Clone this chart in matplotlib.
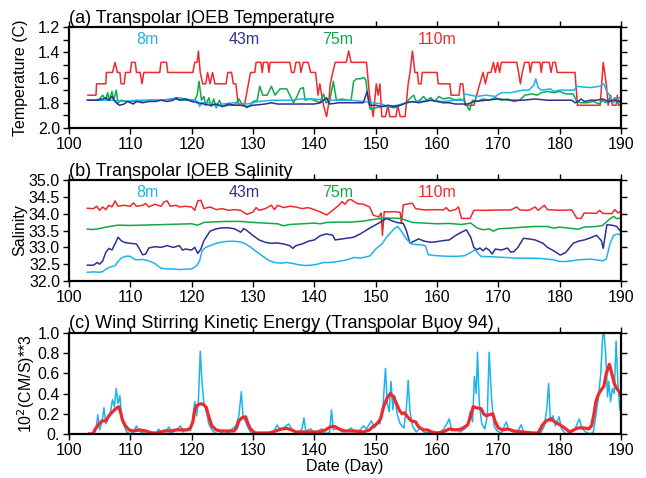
import matplotlib
matplotlib.use("Agg")
import matplotlib.pyplot as plt
from matplotlib.ticker import MultipleLocator, FixedLocator, FixedFormatter

plt.rcParams["font.family"] = ["Liberation Sans", "DejaVu Sans"]
plt.rcParams["font.size"] = 11

C_8M = "#1cb4ec"
C_43M = "#2e3192"
C_75M = "#11a84b"
C_110M = "#ee2a2e"

DEPTH_LABELS = ["8m", "43m", "75m", "110m"]
DEPTH_LABEL_DAYS = [112.8, 128.5, 143.8, 160.0]

# ---- (a) temperature (day, value) ----
temp_110_day = [103.1, 104.4, 104.5, 106.0, 106.1, 107.1, 107.5, 107.9, 108.3, 108.5, 109.0, 109.2,
                110.0, 110.2, 110.8, 111.0, 111.6, 111.9, 112.2, 114.8, 115.0, 115.9, 116.1, 120.2,
                120.5, 120.9, 121.1, 121.4, 121.8, 122.3, 122.6, 123.0, 123.4, 123.8, 125.6, 125.9,
                126.5, 126.8, 127.2, 127.6, 128.6, 129.6, 130.3, 130.5, 131.3, 131.5, 131.7, 132.4,
                132.6, 132.8, 136.0, 136.3, 136.7, 137.0, 137.6, 137.8, 138.2, 139.0, 139.4, 140.2,
                140.6, 140.9, 141.2, 141.5, 142.0, 142.3, 142.6, 143.0, 143.4, 145.2, 145.6, 146.0,
                148.5, 149.0, 149.6, 150.1, 150.4, 150.7, 151.0, 151.6, 152.0, 152.3, 153.3, 153.6,
                154.0, 154.8, 155.3, 155.6, 156.0, 156.4, 156.8, 157.0, 157.4, 157.6, 160.0, 160.2,
                162.1, 162.3, 163.6, 163.8, 164.2, 164.6, 166.0, 167.5, 167.9, 168.3, 168.8, 169.2,
                169.5, 169.9, 170.2, 170.5, 173.0, 173.3, 173.6, 173.9, 174.3, 175.0, 175.2, 175.5,
                176.8, 177.0, 177.2, 178.3, 178.6, 178.9, 179.3, 179.6, 182.5, 182.9, 186.6, 187.1,
                187.6, 187.9, 188.3, 188.6, 189.2, 189.4, 189.6, 189.9, 190.0]
temp_110_val = [1.74, 1.74, 1.65, 1.65, 1.56, 1.56, 1.48, 1.56, 1.56, 1.65, 1.65, 1.56,
                1.56, 1.48, 1.48, 1.56, 1.56, 1.65, 1.56, 1.56, 1.48, 1.48, 1.56, 1.56,
                1.48, 1.48, 1.39, 1.56, 1.65, 1.65, 1.56, 1.65, 1.56, 1.65, 1.65, 1.56,
                1.56, 1.65, 1.65, 1.82, 1.82, 1.56, 1.56, 1.48, 1.48, 1.56, 1.48, 1.48,
                1.56, 1.48, 1.48, 1.56, 1.56, 1.48, 1.48, 1.56, 1.48, 1.48, 1.56, 1.56,
                1.74, 1.65, 1.74, 1.82, 1.91, 1.82, 1.65, 1.56, 1.48, 1.48, 1.39, 1.48,
                1.48, 1.74, 1.91, 1.65, 1.74, 1.65, 1.91, 1.91, 1.82, 1.91, 1.91, 1.82,
                1.91, 1.91, 1.65, 1.56, 1.39, 1.56, 1.56, 1.65, 1.65, 1.56, 1.56, 1.65,
                1.65, 1.74, 1.74, 1.65, 1.65, 1.82, 1.82, 1.56, 1.65, 1.56, 1.56, 1.48,
                1.56, 1.48, 1.56, 1.48, 1.48, 1.56, 1.65, 1.56, 1.48, 1.48, 1.56, 1.48,
                1.48, 1.56, 1.48, 1.48, 1.56, 1.48, 1.48, 1.56, 1.56, 1.82, 1.82, 1.48,
                1.65, 1.82, 1.74, 1.82, 1.82, 1.74, 1.82, 1.82, 1.70]

temp_8_day = [103, 105, 107, 109, 111, 113, 115, 116.5, 118, 119, 120.5, 121, 121.3, 121.6, 123,
              124, 125, 127, 129, 131, 133, 136, 138, 140, 142, 144, 146, 148, 149.5, 151, 152,
              153.5, 155, 157, 159, 161, 163, 164.3, 164.5, 165.5, 166.5, 168, 169.5, 170.5, 172,
              173, 174, 175, 175.8, 176.1, 176.5, 177, 178.5, 179, 180, 182.4, 182.7, 185, 186.5,
              187.2, 187.6, 188.1, 188.7, 189.3, 189.7, 190]
temp_8_val = [1.78, 1.78, 1.78, 1.79, 1.78, 1.78, 1.78, 1.77, 1.76, 1.77, 1.78, 1.79, 1.83, 1.80, 1.80,
              1.83, 1.81, 1.80, 1.81, 1.79, 1.78, 1.78, 1.77, 1.77, 1.78, 1.78, 1.78, 1.79, 1.80, 1.81, 1.83,
              1.82, 1.80, 1.79, 1.78, 1.79, 1.78, 1.78, 1.73, 1.74, 1.75, 1.74, 1.75, 1.72, 1.72,
              1.71, 1.70, 1.70, 1.66, 1.61, 1.68, 1.70, 1.69, 1.71, 1.70, 1.70, 1.67, 1.68, 1.67,
              1.65, 1.70, 1.74, 1.80, 1.78, 1.76, 1.77]

temp_43_day = [103, 104.5, 105.5, 106, 106.5, 107, 107.5, 108.2, 109, 109.5, 110.5, 111, 112, 113, 114,
               115, 116, 117, 117.5, 118, 119, 120, 121, 122, 123, 124, 125, 126, 127, 128, 129, 130,
               132, 133, 134, 136, 138, 140, 141, 142, 142.5, 144, 146, 148, 148.6, 149, 150, 151,
               152, 153, 154, 155, 156, 157, 158, 159, 160, 161, 162, 163, 164, 165, 166, 168, 170,
               172, 174, 176, 178, 180, 182, 182.5, 183, 183.5, 184, 185, 186, 187, 188, 189, 190]
temp_43_val = [1.78, 1.78, 1.77, 1.76, 1.78, 1.75, 1.79, 1.82, 1.81, 1.79, 1.81, 1.79, 1.80, 1.79, 1.79,
               1.78, 1.79, 1.78, 1.76, 1.78, 1.77, 1.79, 1.80, 1.81, 1.82, 1.81, 1.83, 1.81, 1.82, 1.82,
               1.83, 1.82, 1.81, 1.80, 1.81, 1.81, 1.81, 1.81, 1.80, 1.76, 1.81, 1.80, 1.80, 1.80, 1.71,
               1.82, 1.82, 1.83, 1.82, 1.83, 1.82, 1.80, 1.79, 1.80, 1.79, 1.78, 1.79, 1.80, 1.80, 1.81,
               1.81, 1.81, 1.79, 1.78, 1.77, 1.78, 1.78, 1.77, 1.78, 1.78, 1.78, 1.80, 1.79, 1.77, 1.79,
               1.78, 1.78, 1.77, 1.79, 1.78, 1.79]

temp_75_day = [103, 104, 105, 105.5, 106, 106.3, 106.6, 107, 107.3, 107.7, 108, 108.5, 109.5, 111, 113,
               115, 117, 119, 120.5, 120.9, 121.2, 121.6, 122, 122.3, 122.8, 123.2, 123.6, 124, 124.5,
               125, 126, 127, 127.7, 128.2, 129, 129.6, 130.0, 130.7, 131.1, 131.6, 132.3, 133.0,
               133.6, 134.4, 135.5, 136.0, 136.6, 137.1, 137.7, 138.2, 138.5, 139.3, 140.5, 140.9,
               141.5, 141.9, 142.5, 143.1, 143.6, 144.5, 145.5, 146.0, 146.4, 146.9, 147.5, 148.1,
               148.4, 148.8, 149.1, 151, 152, 153, 154, 155, 155.5, 156.2, 156.6, 157.2, 157.8, 158.3,
               159, 159.6, 160.3, 161, 162, 163, 163.8, 164.5, 165.3, 165.8, 166.5, 167.5, 168.5, 169.5,
               170.5, 171.5, 172.5, 173.5, 174.3, 175.5, 176.3, 177, 178, 179, 180, 181, 182.2, 182.8,
               183.5, 184.5, 185.5, 186.5, 187, 187.5, 188, 188.5, 189, 189.5, 190]
temp_75_val = [1.78, 1.78, 1.77, 1.74, 1.78, 1.72, 1.78, 1.71, 1.78, 1.70, 1.80, 1.78, 1.79, 1.79, 1.78,
               1.78, 1.77, 1.78, 1.78, 1.74, 1.63, 1.78, 1.75, 1.82, 1.76, 1.83, 1.77, 1.84, 1.78,
               1.83, 1.82, 1.82, 1.77, 1.81, 1.84, 1.82, 1.79, 1.78, 1.67, 1.74, 1.74, 1.67,
               1.74, 1.69, 1.69, 1.74, 1.80, 1.76, 1.69, 1.68, 1.78, 1.77, 1.79, 1.80,
               1.73, 1.80, 1.79, 1.63, 1.78, 1.77, 1.78, 1.78, 1.63, 1.61, 1.61, 1.60,
               1.62, 1.78, 1.85, 1.83, 1.83, 1.84, 1.82, 1.80, 1.77, 1.74, 1.79, 1.78, 1.75, 1.78,
               1.76, 1.79, 1.75, 1.77, 1.76, 1.78, 1.77, 1.79, 1.86, 1.78, 1.79, 1.77, 1.78, 1.76,
               1.78, 1.77, 1.79, 1.78, 1.74, 1.73, 1.74, 1.72, 1.71, 1.72, 1.71, 1.73, 1.73, 1.79,
               1.80, 1.80, 1.79, 1.81, 1.78, 1.80, 1.77, 1.79, 1.76, 1.80, 1.79]

# ---- (b) salinity ----
sal_8_day = [103, 104, 105, 105.5, 106, 106.5, 107, 107.5, 108, 108.5, 109, 109.5, 110, 110.5, 111, 112,
             113, 114, 115, 116, 117, 118, 119, 120, 120.8, 121.3, 121.7, 122.3, 123, 124, 125, 126,
             127, 128, 128.8, 129.5, 130.5, 131.5, 132.5, 133.5, 134.5, 135.5, 136.5, 137.5, 138.5,
             139.5, 140.5, 141.5, 142.5, 143.5, 144.5, 145.5, 146.5, 147.5, 148.5, 149.1, 150, 151,
             152, 153, 153.6, 154.3, 155, 155.8, 156.7, 157.5, 158.1, 158.6, 159.5, 161, 163, 164.5,
             165.5, 166.2, 166.7, 167.2, 169, 171, 173, 175, 177, 179, 180, 181, 182, 183, 184, 185,
             186, 187, 187.6, 188.2, 188.8, 189.5, 190]
sal_8_val = [32.26, 32.27, 32.26, 32.28, 32.35, 32.40, 32.43, 32.45, 32.58, 32.68, 32.72, 32.74, 32.73,
             32.66, 32.63, 32.64, 32.60, 32.52, 32.38, 32.36, 32.36, 32.34, 32.35, 32.36, 32.45, 32.60,
             32.90, 33.00, 33.05, 33.12, 33.16, 33.18, 33.18, 33.16, 33.10, 33.02, 32.88, 32.75, 32.62,
             32.55, 32.53, 32.55, 32.52, 32.48, 32.46, 32.47, 32.50, 32.55, 32.55, 32.57, 32.60, 32.64,
             32.70, 32.68, 32.72, 32.75, 32.95, 33.10, 33.35, 33.55, 33.62, 33.45, 33.25, 33.10, 33.08,
             33.07, 33.05, 32.78, 32.76, 32.74, 32.73, 32.75, 32.85, 32.93, 32.82, 32.73, 32.72, 32.70,
             32.68, 32.68, 32.67, 32.63, 32.58, 32.58, 32.60, 32.63, 32.64, 32.65, 32.63, 32.60, 32.65,
             33.10, 33.36, 33.40, 33.35]

sal_43_day = [103, 104, 104.6, 105, 105.5, 106, 106.5, 107, 107.5, 108, 108.5, 109, 110, 111, 111.5, 112,
              112.5, 113, 114, 115, 116, 117, 118, 118.5, 119, 120, 120.5, 121, 121.5, 122, 123, 124,
              125, 126, 127, 127.5, 128, 128.5, 129, 130, 131, 132, 133, 134, 135, 136, 136.5, 137,
              138, 139, 140, 141, 142, 143, 143.4, 144.5, 146.4, 147.5, 149.1, 150.5, 151.8, 152.5,
              153.4, 154.5, 155, 155.6, 156.2, 157, 158, 159, 160, 161, 162, 163, 164, 164.8, 165.5,
              166.0, 166.5, 167, 167.5, 168, 168.5, 169, 169.5, 170.5, 171.5, 172, 172.5, 173.2, 174.1,
              175, 176, 177.3, 178, 179, 180.1, 181, 182.2, 183, 184, 185, 186, 186.8, 187.1, 187.7,
              188.5, 189.3, 190]
sal_43_val = [32.47, 32.47, 32.55, 32.50, 32.60, 32.85, 32.97, 32.92, 33.10, 33.30, 33.20, 33.15, 33.12,
              33.10, 32.95, 32.78, 32.80, 32.98, 33.02, 33.00, 33.05, 33.00, 33.05, 32.92, 32.95, 32.92,
              33.00, 32.82, 32.95, 33.20, 33.48, 33.55, 33.58, 33.58, 33.55, 33.50, 33.45, 33.56, 33.50,
              33.35, 33.22, 33.15, 33.12, 33.13, 33.10, 33.05, 32.97, 33.05, 33.10, 33.18, 33.22, 33.35,
              33.40, 33.36, 33.22, 33.25, 33.30, 33.40, 33.58, 33.72, 33.86, 33.80, 33.74, 33.71, 33.50,
              33.12, 33.18, 33.25, 33.18, 33.15, 33.17, 33.20, 33.22, 33.35, 33.45, 33.52, 33.30, 33.00,
              32.93, 32.98, 32.90, 32.98, 32.92, 32.80, 32.95, 32.92, 32.98, 32.86, 32.87, 33.00, 33.27,
              33.25, 33.22, 33.12, 33.00, 32.90, 32.77, 32.85, 33.12, 33.18, 33.22, 33.28, 33.36, 33.20,
              32.97, 33.67, 33.66, 33.62, 33.46]

sal_75_day = [103, 104, 105, 106, 107, 108, 110, 112, 114, 116, 118, 120, 121, 122, 124, 126, 128, 130,
              132, 134, 135, 136, 138, 140, 141, 142, 144, 146, 148, 150, 152, 154, 155, 156, 158, 160,
              162, 164, 165.5, 166.5, 167.5, 168.5, 169.2, 170, 172, 174, 176, 178, 179, 180, 182, 183,
              184, 186, 187, 188.2, 188.8, 189.3, 190]
sal_75_val = [33.54, 33.53, 33.56, 33.60, 33.63, 33.66, 33.65, 33.66, 33.67, 33.68, 33.69, 33.70, 33.66,
              33.74, 33.76, 33.77, 33.77, 33.74, 33.72, 33.70, 33.64, 33.68, 33.70, 33.72, 33.70, 33.74,
              33.75, 33.75, 33.78, 33.84, 33.87, 33.86, 33.80, 33.74, 33.72, 33.70, 33.71, 33.68, 33.72,
              33.58, 33.52, 33.55, 33.48, 33.55, 33.57, 33.60, 33.62, 33.62, 33.57, 33.60, 33.56, 33.54,
              33.60, 33.62, 33.65, 33.85, 33.92, 33.85, 33.88]

sal_110_day = [103, 104, 104.5, 105, 105.5, 106, 106.5, 107, 107.5, 108, 109, 110, 110.5, 111, 112, 112.5,
               113, 114, 115, 115.5, 116, 116.5, 117.5, 118, 119, 120, 120.5, 121, 121.5, 122, 123, 124,
               125, 126, 127, 128, 129, 130, 130.5, 131, 132, 133, 133.5, 134, 135, 136, 137, 138, 139,
               140, 141, 142, 143, 144, 144.5, 145, 145.5, 146, 147, 148, 149, 149.6, 150.5, 150.9,
               151.1, 151.4, 152, 153, 154, 154.2, 154.5, 155.5, 156, 156.5, 158, 160, 161, 161.5, 162,
               163, 163.5, 164, 165.4, 166, 168, 170, 172, 173, 173.5, 175, 176, 176.5, 177.5, 178, 180,
               182, 182.8, 183.5, 184, 186, 186.5, 187, 188.5, 189, 189.5, 190]
sal_110_val = [34.16, 34.15, 34.22, 34.10, 34.20, 34.12, 34.25, 34.20, 34.38, 34.22, 34.25, 34.22, 34.32,
               34.22, 34.25, 34.30, 34.20, 34.28, 34.22, 34.35, 34.38, 34.22, 34.25, 34.20, 34.22, 34.20,
               34.10, 34.38, 34.40, 34.15, 34.20, 34.12, 34.15, 34.10, 34.12, 34.10, 33.98, 34.05, 34.18,
               34.10, 34.15, 34.25, 34.12, 34.25, 34.18, 34.22, 34.20, 34.15, 34.18, 34.12, 34.05, 33.96,
               34.10, 34.25, 34.36, 34.28, 34.40, 34.42, 34.30, 34.28, 34.20, 33.96, 33.90, 34.02, 33.36,
               34.06, 34.05, 34.06, 34.04, 33.71, 34.26, 34.30, 34.31, 34.15, 34.11, 34.12, 34.11, 34.18,
               34.08, 34.12, 34.20, 33.86, 33.86, 34.10, 34.10, 34.11, 34.11, 34.20, 34.11, 34.10, 34.20,
               34.10, 34.25, 34.12, 34.10, 34.11, 33.86, 33.86, 34.02, 34.01, 34.10, 34.01, 34.00, 34.12,
               34.02, 34.08]

# ---- (c) wind stirring kinetic energy ----
wind_day = [103.0, 104.0, 104.4, 104.7, 105.0, 105.4, 105.7, 106.0, 106.4, 106.8, 107.1, 107.4, 107.7,
            108.0, 108.3, 108.6, 109.0, 109.4, 110.0, 110.6, 111.0, 111.4, 112.0, 112.8, 113.5, 114.2,
            114.6, 115.0, 115.8, 116.3, 116.7, 117.5, 118.2, 118.6, 119.2, 119.8, 120.2, 120.5, 120.8,
            121.1, 121.4, 121.7, 122.0, 122.4, 122.8, 123.2, 123.8, 124.5, 125.2, 126.0, 126.6, 127.2,
            127.7, 128.1, 128.4, 128.8, 129.2, 129.8, 130.5, 131.5, 132.5, 133.5, 133.9, 134.5, 135.2,
            135.8, 136.5, 137.3, 138.0, 138.3, 138.6, 139.4, 140.0, 140.6, 141.2, 141.8, 142.5, 142.8,
            143.1, 143.8, 144.5, 145.3, 146.0, 146.5, 147.5, 148.0, 148.5, 149.3, 149.8, 150.4, 150.7,
            151.2, 151.6, 151.9, 152.2, 152.5, 152.8, 153.1, 153.5, 154.0, 154.6, 155.0, 155.3, 155.6,
            156.0, 156.6, 157.3, 158.0, 159.0, 160.0, 161.0, 161.6, 162.0, 162.4, 163.0, 163.8, 164.5,
            165.0, 165.4, 165.8, 166.1, 166.4, 166.6, 166.9, 167.3, 167.8, 168.2, 168.5, 168.9, 169.3,
            169.8, 170.5, 171.3, 171.7, 172.5, 173.2, 173.7, 174.2, 175.0, 176.0, 177.0, 177.5, 177.9,
            178.2, 178.5, 178.9, 179.3, 179.9, 180.3, 181.0, 181.8, 182.5, 183.2, 183.6, 184.2, 185.0,
            185.5, 185.9, 186.3, 186.7, 187.0, 187.2, 187.5, 187.8, 188.0, 188.3, 188.6, 188.9, 189.2,
            189.5, 189.8, 190.0]
wind_raw = [0.00, 0.01, 0.05, 0.19, 0.04, 0.12, 0.26, 0.10, 0.16, 0.23, 0.34, 0.27, 0.45,
            0.30, 0.38, 0.15, 0.08, 0.02, 0.00, 0.03, 0.08, 0.03, 0.01, 0.00, 0.02, 0.00,
            0.05, 0.01, 0.03, 0.07, 0.01, 0.04, 0.08, 0.02, 0.05, 0.03, 0.15, 0.32, 0.18,
            0.33, 0.82, 0.50, 0.30, 0.22, 0.10, 0.05, 0.01, 0.00, 0.03, 0.01, 0.05, 0.08,
            0.18, 0.42, 0.16, 0.12, 0.06, 0.00, 0.00, 0.01, 0.01, 0.03, 0.09, 0.04, 0.07,
            0.10, 0.03, 0.01, 0.05, 0.16, 0.03, 0.05, 0.01, 0.03, 0.05, 0.00, 0.02, 0.24,
            0.04, 0.06, 0.02, 0.03, 0.06, 0.02, 0.04, 0.08, 0.05, 0.13, 0.06, 0.12, 0.10,
            0.28, 0.65, 0.30, 0.22, 0.52, 0.24, 0.38, 0.20, 0.10, 0.06, 0.25, 0.53, 0.22,
            0.08, 0.02, 0.06, 0.01, 0.02, 0.00, 0.04, 0.10, 0.15, 0.03, 0.05, 0.02, 0.05,
            0.08, 0.22, 0.12, 0.57, 0.40, 0.81, 0.30, 0.10, 0.05, 0.18, 0.81, 0.35, 0.08,
            0.03, 0.01, 0.12, 0.04, 0.02, 0.03, 0.09, 0.01, 0.02, 0.01, 0.02, 0.08, 0.25,
            0.50, 0.12, 0.18, 0.08, 0.17, 0.05, 0.00, 0.01, 0.05, 0.15, 0.06, 0.02, 0.00,
            0.02, 0.18, 0.35, 0.60, 0.96, 1.02, 0.80, 0.37, 0.52, 0.32, 0.45, 0.40, 0.92,
            0.50, 0.24, 0.37]

smooth_day = [103.3, 103.9, 104.3, 104.9, 105.4, 106.0, 106.5, 107.1, 107.6, 108.1, 108.4, 108.7, 109.2,
              109.8, 110.5, 111.5, 112.5, 113.5, 114.4, 115.5, 116.5, 117.5, 118.5, 119.3, 119.8, 120.2,
              120.5, 120.8, 121.5, 122.0, 122.4, 122.8, 123.3, 124.0, 124.7, 125.8, 126.9, 127.3, 127.7,
              128.2, 128.8, 129.2, 129.6, 130.3, 131.5, 132.7, 133.7, 134.7, 135.5, 136.3, 137.0, 138.5,
              140.0, 140.9, 141.8, 142.6, 143.3, 144.0, 145.0, 146.5, 148.0, 149.0, 149.5, 150.2, 150.8,
              151.3, 151.9, 152.4, 152.9, 153.4, 153.9, 154.3, 154.7, 155.2, 155.8, 156.5, 157.0, 157.8,
              158.5, 159.1, 160.0, 161.0, 162.0, 163.0, 164.0, 165.0, 165.5, 165.9, 166.4, 167.2, 167.6,
              168.0, 168.5, 169.1, 169.5, 170.0, 170.7, 171.5, 172.5, 174.0, 175.5, 176.5, 177.2, 177.8,
              178.6, 179.2, 179.8, 180.3, 180.8, 181.6, 182.3, 183.0, 184.0, 184.7, 185.2, 185.6, 185.9,
              186.3, 186.7, 187.2, 187.6, 188.1, 188.5, 188.9, 189.3, 189.7, 190.0]
smooth_val = [0.00, 0.00, 0.05, 0.10, 0.13, 0.13, 0.18, 0.22, 0.25, 0.27, 0.22, 0.14, 0.08,
              0.04, 0.03, 0.04, 0.03, 0.01, 0.01, 0.03, 0.03, 0.04, 0.04, 0.04, 0.06, 0.12,
              0.24, 0.28, 0.30, 0.29, 0.26, 0.17, 0.08, 0.04, 0.03, 0.03, 0.03, 0.06, 0.13,
              0.16, 0.17, 0.10, 0.05, 0.01, 0.01, 0.01, 0.03, 0.05, 0.055, 0.04, 0.02, 0.02,
              0.02, 0.02, 0.04, 0.07, 0.075, 0.05, 0.03, 0.03, 0.02, 0.04, 0.07, 0.10, 0.15,
              0.27, 0.36, 0.40, 0.37, 0.30, 0.23, 0.20, 0.21, 0.17, 0.13, 0.12, 0.07, 0.04,
              0.04, 0.02, 0.01, 0.02, 0.05, 0.04, 0.05, 0.09, 0.18, 0.27, 0.26, 0.25, 0.20,
              0.18, 0.19, 0.20, 0.12, 0.06, 0.04, 0.05, 0.03, 0.02, 0.01, 0.01, 0.09, 0.13,
              0.15, 0.12, 0.10, 0.08, 0.06, 0.02, 0.04, 0.06, 0.06, 0.05, 0.08, 0.20, 0.32,
              0.39, 0.43, 0.47, 0.60, 0.69, 0.60, 0.50, 0.45, 0.42, 0.38]

wind_yticks = [0.0, 0.2, 0.4, 0.6, 0.8, 1.0]
wind_yticklabels = ["0.", "0.2", "0.4", "0.6", "0.8", "1.0"]


def style_axes(ax, ymin, ymax, major, minor):
    ax.set_xlim(100, 190)
    ax.set_ylim(ymin, ymax)
    ax.xaxis.set_major_locator(MultipleLocator(10))
    ax.yaxis.set_major_locator(MultipleLocator(major))
    ax.yaxis.set_minor_locator(MultipleLocator(minor))
    ax.tick_params(which="both", direction="out", top=True, right=True,
                   labeltop=False, labelright=False, width=1.0, length=4.5, labelsize=11.5, pad=2)
    for sp in ax.spines.values():
        sp.set_linewidth(1.6)


fig = plt.figure(figsize=(6.46, 4.78), dpi=100)
ax_a = fig.add_axes([0.1068, 0.7322, 0.8545, 0.2113])
ax_b = fig.add_axes([0.1068, 0.4121, 0.8545, 0.2113])
ax_c = fig.add_axes([0.1068, 0.0921, 0.8545, 0.2113])

# (a)
ax_a.plot(temp_110_day, temp_110_val, color=C_110M, lw=1.1)
ax_a.plot(temp_75_day, temp_75_val, color=C_75M, lw=1.1)
ax_a.plot(temp_8_day, temp_8_val, color=C_8M, lw=1.1)
ax_a.plot(temp_43_day, temp_43_val, color=C_43M, lw=1.1)
style_axes(ax_a, 2.0, 1.2, 0.2, 0.1)
ax_a.set_ylabel("Temperature (C)", fontsize=11.5)
ax_a.yaxis.set_label_coords(-0.075, 0.5)
ax_a.text(0.0, 1.005, "(a) Transpolar IOEB Temperature", transform=ax_a.transAxes,
          ha="left", va="bottom", fontsize=13)

# (b)
ax_b.plot(sal_110_day, sal_110_val, color=C_110M, lw=1.1)
ax_b.plot(sal_75_day, sal_75_val, color=C_75M, lw=1.1)
ax_b.plot(sal_43_day, sal_43_val, color=C_43M, lw=1.1)
ax_b.plot(sal_8_day, sal_8_val, color=C_8M, lw=1.1)
style_axes(ax_b, 32.0, 35.0, 0.5, 0.5)
ax_b.yaxis.set_major_formatter(matplotlib.ticker.FormatStrFormatter("%.1f"))
ax_b.set_ylabel("Salinity", fontsize=11.5)
ax_b.yaxis.set_label_coords(-0.075, 0.5)
ax_b.text(0.0, 1.005, "(b) Transpolar IOEB Salinity", transform=ax_b.transAxes,
          ha="left", va="bottom", fontsize=13)

for ax, ypos in ((ax_a, 0.88), (ax_b, 0.88)):
    for lab, day, col in zip(DEPTH_LABELS, DEPTH_LABEL_DAYS, [C_8M, C_43M, C_75M, C_110M]):
        ax.text(day, ypos, lab, color=col, fontsize=11.5, ha="center", va="center",
                transform=ax.get_xaxis_transform())

# (c)
ax_c.plot(wind_day, wind_raw, color=C_8M, lw=1.1, clip_on=True)
ax_c.plot(smooth_day, smooth_val, color=C_110M, lw=2.3)
style_axes(ax_c, 0.0, 1.0, 0.2, 0.2)
ax_c.yaxis.set_major_locator(FixedLocator(wind_yticks))
ax_c.yaxis.set_major_formatter(FixedFormatter(wind_yticklabels))
ax_c.set_ylabel("10$^2$(CM/S)**3", fontsize=11.5)
ax_c.yaxis.set_label_coords(-0.058, 0.5)
ax_c.set_xlabel("Date (Day)", fontsize=11.5, labelpad=1)
ax_c.text(0.0, 1.005, "(c) Wind Stirring Kinetic Energy (Transpolar Buoy 94)", transform=ax_c.transAxes,
          ha="left", va="bottom", fontsize=13)

fig.savefig("out.png", dpi=100)
